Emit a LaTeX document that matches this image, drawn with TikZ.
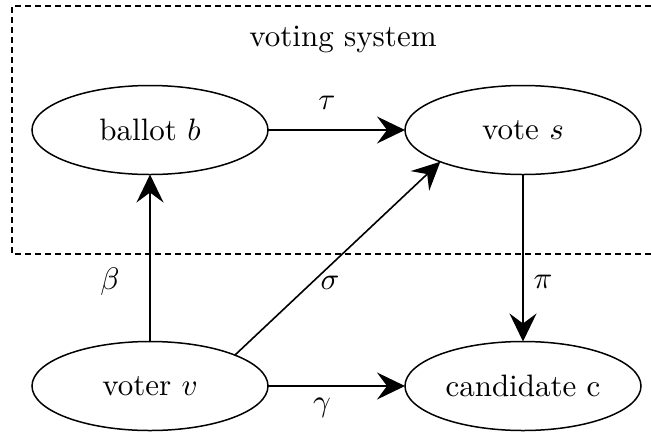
\documentclass[tikz,border=0pt]{standalone}
\usetikzlibrary{shapes.geometric,arrows.meta}
\begin{document}
\begin{tikzpicture}[x=1pt,y=-1pt,
  every node/.style={scale=3.1},
  ell/.style={draw, ellipse, line width=1.5pt, minimum width=76.13pt, minimum height=28.71pt, inner sep=0pt, outer sep=0pt},
  conn/.style={line width=1.6pt, -{Stealth[length=28pt,width=27pt,inset=10pt]}},
  lbl/.style={inner sep=0pt}]
\useasboundingbox[fill=white] (0,0) rectangle (651,432);
\coordinate (tr) at (651,6);
\coordinate (br) at (651,254);
\draw[line width=1.1pt, dash pattern=on 6pt off 4pt] (tr) -| (12,254) -- (br);
\node[lbl] (sys) at (343,40) {voting system};
\node[ell] (b) at (150,130) {ballot $b$};
\node[ell] (s) at (523,130) {vote $s$};
\node[ell] (v) at (150,386) {voter $v$};
\node[ell] (c) at (523,386) {candidate c};
\draw[conn] (b) -- (s);
\draw[conn] (v) -- (b);
\draw[conn] (v.20.5) -- (s.201.5);
\draw[conn] (s) -- (c);
\draw[conn] (v) -- (c);
\node[lbl] (tau) at (327,103) {$\tau$};
\node[lbl] (beta) at (110,282) {$\beta$};
\node[lbl] (sigma) at (330,283) {$\sigma$};
\node[lbl] (pi) at (543,282) {$\pi$};
\node[lbl] (gamma) at (322,408) {$\gamma$};
\end{tikzpicture}
\end{document}
